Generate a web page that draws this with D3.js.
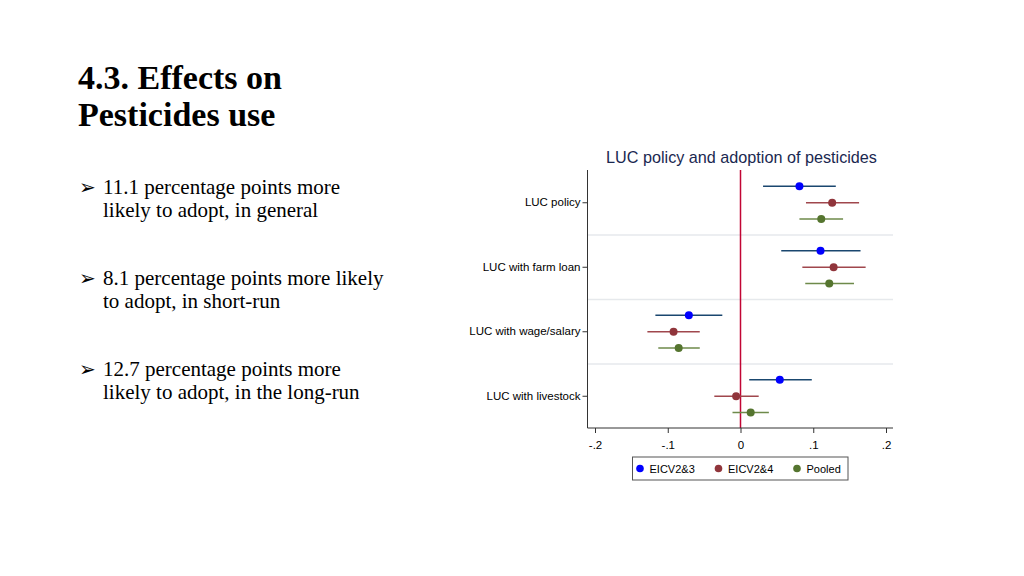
<!DOCTYPE html>
<html><head><meta charset="utf-8">
<script src="https://cdn.jsdelivr.net/npm/d3@7"></script>
<style>body{margin:0;background:#fff}svg{display:block}</style>
</head><body>
<svg id="c" width="1024" height="576"></svg>
<script>
const categories = ["LUC policy","LUC with farm loan","LUC with wage/salary","LUC with livestock"];
const seriesNames = ["EICV2&3","EICV2&4","Pooled"];
const estEICV23 = [0.081, 0.110, -0.071, 0.054];
const loEICV23  = [0.031, 0.056, -0.117, 0.012];
const hiEICV23  = [0.131, 0.165, -0.025, 0.098];
const estEICV24 = [0.126, 0.128, -0.092, -0.006];
const loEICV24  = [0.090, 0.085, -0.128, -0.036];
const hiEICV24  = [0.163, 0.172, -0.056, 0.025];
const estPooled = [0.111, 0.122, -0.085, 0.014];
const loPooled  = [0.081, 0.089, -0.113, -0.011];
const hiPooled  = [0.141, 0.156, -0.056, 0.039];
const xTicks = [-0.2, -0.1, 0, 0.1, 0.2];
const xTickLabels = ["-.2","-.1","0",".1",".2"];
const headingLines = ["4.3. Effects on","Pesticides use"];
const bullets = [
  ["11.1 percentage points more","likely to adopt, in general"],
  ["8.1 percentage points more likely","to adopt, in short-run"],
  ["12.7 percentage points more","likely to adopt, in the long-run"]
];
const chartTitle = "LUC policy and adoption of pesticides";

const svg = d3.select("#c");
const serif = "'Liberation Serif','Times New Roman',serif";
const sans = "'Liberation Sans',Arial,sans-serif";

// Heading
svg.append("g").selectAll("text").data(headingLines).join("text")
  .attr("x", 78).attr("y", (d,i)=>89 + i*37)
  .attr("font-family", serif).attr("font-weight","bold").attr("font-size", 34)
  .attr("fill","#000").text(d=>d);

// Bullets
const bulletY = [194, 285, 376];
const bg = svg.append("g");
bullets.forEach((b,i)=>{
  bg.append("text").attr("x",79).attr("y",bulletY[i]).attr("font-family","'DejaVu Sans',sans-serif")
    .attr("font-size",20).text("\u27A2");
  b.forEach((line,j)=>{
    bg.append("text").attr("x",103).attr("y",bulletY[i]+j*22.5)
      .attr("font-family",serif).attr("font-size",21).attr("fill","#000").text(line);
  });
});

// Chart
const L = 587.5, R = 893, T = 170, B = 428;
const x = d3.scaleLinear().domain([-0.2,0.2]).range([595, 886]);
const y = d3.scaleBand().domain(categories).range([T+0.5,B+0.5]);
const bw = y.bandwidth();

const series = [
  {name: seriesNames[0], est: estEICV23, lo: loEICV23, hi: hiEICV23, marker:"#0000ff", line:"#1a476f", off:-0.255},
  {name: seriesNames[1], est: estEICV24, lo: loEICV24, hi: hiEICV24, marker:"#90353b", line:"#a0474d", off:0},
  {name: seriesNames[2], est: estPooled, lo: loPooled, hi: hiPooled, marker:"#55752f", line:"#6e8a4a", off:0.25}
];

svg.append("text").attr("x", 741.5).attr("y", 163).attr("text-anchor","middle")
  .attr("font-family",sans).attr("font-size",16.2).attr("fill","#1a2850").text(chartTitle);

// separators
svg.append("g").selectAll("line").data(categories.slice(1)).join("line")
  .attr("x1", L).attr("x2", R)
  .attr("y1", d=>y(d)).attr("y2", d=>y(d))
  .attr("stroke","#e6e9ec").attr("stroke-width",1.5);

// zero line
svg.append("line").attr("x1",x(0)).attr("x2",x(0)).attr("y1",T).attr("y2",B)
  .attr("stroke","#c10534").attr("stroke-width",1.5);

// y axis
const yAxis = svg.append("g").attr("transform",`translate(${L},0)`)
  .call(d3.axisLeft(y).tickSize(5).tickPadding(2));
yAxis.select(".domain").attr("stroke","#333").attr("d",`M0,${T}V${B}`);
yAxis.selectAll(".tick line").attr("stroke","#333");
yAxis.selectAll("text").attr("font-family",sans).attr("font-size",11.5).attr("fill","#000");

// x axis
const xAxis = svg.append("g").attr("transform",`translate(0,${B})`)
  .call(d3.axisBottom(x).tickValues(xTicks).tickFormat((d,i)=>xTickLabels[i]).tickSize(5).tickPadding(8));
xAxis.select(".domain").attr("stroke","#333").attr("d",`M${L},0H${R}`);
xAxis.selectAll(".tick line").attr("stroke","#333");
xAxis.selectAll("text").attr("font-family",sans).attr("font-size",11.5).attr("fill","#000");

// CI lines and points
series.forEach(s=>{
  const g = svg.append("g");
  const idx = d3.range(categories.length);
  const cy = i => y(categories[i]) + bw/2 + s.off*bw;
  g.selectAll("line").data(idx).join("line")
    .attr("x1", i=>x(s.lo[i])).attr("x2", i=>x(s.hi[i]))
    .attr("y1", cy).attr("y2", cy)
    .attr("stroke", s.line).attr("stroke-width",1.5);
  g.selectAll("circle").data(idx).join("circle")
    .attr("cx", i=>x(s.est[i])).attr("cy", cy).attr("r",4)
    .attr("fill", s.marker);
});

// legend
const lg = svg.append("g");
lg.append("rect").attr("x",632.5).attr("y",457).attr("width",215.5).attr("height",23)
  .attr("fill","#fff").attr("stroke","#555").attr("stroke-width",1);
const legX = [640, 718.5, 797];
series.forEach((s,i)=>{
  lg.append("circle").attr("cx",legX[i]).attr("cy",468.5).attr("r",3.8).attr("fill",s.marker);
  lg.append("text").attr("x",legX[i]+9.5).attr("y",472.5).attr("font-family",sans)
    .attr("font-size",11).attr("fill","#000").text(s.name);
});
</script>
</body></html>
